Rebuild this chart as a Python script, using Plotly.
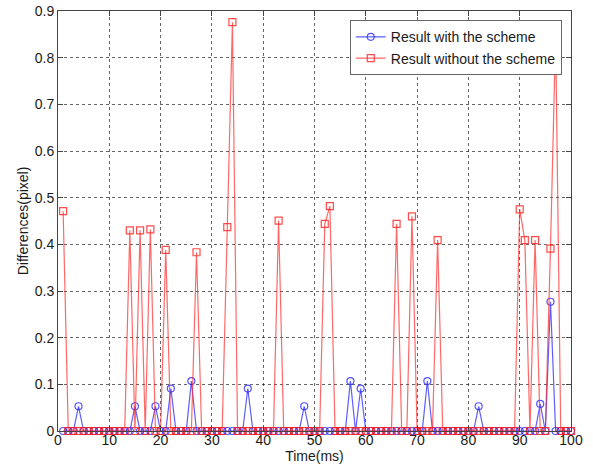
import plotly.graph_objects as go

time_ms = list(range(1, 101))

with_scheme = [
    0, 0, 0, 0.053, 0, 0, 0, 0, 0, 0,
    0, 0, 0, 0, 0.053, 0, 0, 0, 0.053, 0,
    0, 0.091, 0, 0, 0, 0.107, 0, 0, 0, 0,
    0, 0, 0, 0, 0, 0, 0.091, 0, 0, 0,
    0, 0, 0, 0, 0, 0, 0, 0.053, 0, 0,
    0, 0, 0, 0, 0, 0, 0.107, 0, 0.091, 0,
    0, 0, 0, 0, 0, 0, 0, 0, 0, 0,
    0, 0.107, 0, 0, 0, 0, 0, 0, 0, 0,
    0, 0.053, 0, 0, 0, 0, 0, 0, 0, 0,
    0, 0, 0, 0.058, 0, 0.277, 0, 0, 0, 0,
]

without_scheme = [
    0.471, 0, 0, 0, 0, 0, 0, 0, 0, 0,
    0, 0, 0, 0.43, 0, 0.43, 0, 0.432, 0, 0,
    0.388, 0, 0, 0, 0, 0, 0.383, 0, 0, 0,
    0, 0, 0.437, 0.876, 0, 0, 0, 0, 0, 0,
    0, 0, 0.451, 0, 0, 0, 0, 0, 0, 0,
    0, 0.444, 0.482, 0, 0, 0, 0, 0, 0, 0,
    0, 0, 0, 0, 0, 0.444, 0, 0, 0.46, 0,
    0, 0, 0, 0.409, 0, 0, 0, 0, 0, 0,
    0, 0, 0, 0, 0, 0, 0, 0, 0, 0.475,
    0.409, 0, 0.409, 0, 0, 0.391, 0.85, 0, 0, 0,
]

x_ticks = list(range(0, 101, 10))
y_ticks = [0, 0.1, 0.2, 0.3, 0.4, 0.5, 0.6, 0.7, 0.8, 0.9]
y_tick_labels = ["0", "0.1", "0.2", "0.3", "0.4", "0.5", "0.6", "0.7", "0.8", "0.9"]

font_family = "Arial, Liberation Sans, Helvetica, sans-serif"
text_color = "#1a1a1a"

fig = go.Figure()
fig.add_trace(go.Scatter(
    x=time_ms, y=with_scheme, mode="lines+markers",
    name="Result with the scheme",
    line=dict(color="rgba(40,40,255,0.75)", width=1.2),
    marker=dict(symbol="circle-open", size=7, color="rgba(40,40,255,0.8)", line=dict(width=1.2)),
    cliponaxis=False,
))
fig.add_trace(go.Scatter(
    x=time_ms, y=without_scheme, mode="lines+markers",
    name="Result without the scheme",
    line=dict(color="rgba(255,40,40,0.7)", width=1.2),
    marker=dict(symbol="square-open", size=7, color="rgba(255,30,30,0.8)", line=dict(width=1.2)),
    cliponaxis=False,
))

axis_common = dict(
    showline=True, linecolor="#444444", linewidth=1, mirror="allticks",
    ticks="inside", ticklen=5, tickcolor="#444444",
    showgrid=True, gridcolor="rgba(0,0,0,0.6)", griddash="dot", gridwidth=1,
    zeroline=False, tickfont=dict(size=14, color=text_color, family=font_family),
    automargin=False,
)

fig.update_xaxes(
    range=[0, 100], tickmode="array", tickvals=x_ticks,
    ticklabelstandoff=-4,
    title=dict(text="Time(ms)", font=dict(size=14, color=text_color, family=font_family), standoff=0),
    **axis_common,
)
fig.update_yaxes(
    range=[0, 0.9], tickmode="array", tickvals=y_ticks, ticktext=y_tick_labels,
    title=dict(text="Differences(pixel)", font=dict(size=14, color=text_color, family=font_family), standoff=2),
    **axis_common,
)

fig.update_layout(
    width=593, height=468,
    margin=dict(l=58, r=22, t=11, b=37),
    plot_bgcolor="white", paper_bgcolor="white",
    font=dict(family=font_family, size=14, color=text_color),
    legend=dict(
        x=0.982, y=0.978, xanchor="right", yanchor="top",
        bgcolor="white", bordercolor="#666666", borderwidth=1,
        font=dict(size=14, color=text_color, family=font_family),
        itemwidth=30, tracegroupgap=0,
    ),
    showlegend=True,
)

fig.write_html(
    "out.html",
    config={"displayModeBar": False},
    post_script="document.body.style.margin='0';document.body.style.overflow='hidden';",
)
